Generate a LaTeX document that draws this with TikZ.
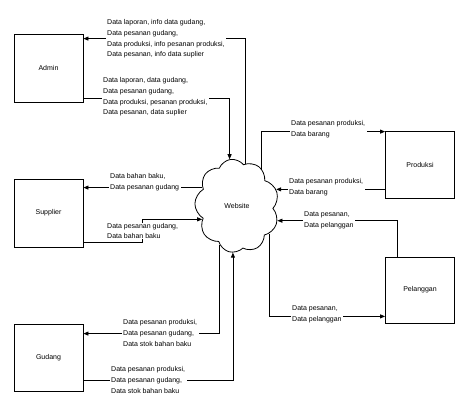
\documentclass[tikz,border=0pt]{standalone}
\usepackage{fontspec}
\setmainfont{Liberation Sans}
\usetikzlibrary{arrows.meta,shapes.symbols}
\begin{document}
\begin{tikzpicture}[x=1pt,y=-1pt,
  box/.style={draw, line width=0.8pt, minimum width=69pt, minimum height=68pt, inner sep=0pt, font=\fontsize{7}{8}\selectfont},
  arr/.style={line width=0.8pt, -{Triangle[length=5pt,width=4pt]}},
  lbl/.style={fill=white, inner xsep=1.5pt, inner ysep=0.5pt, align=left, anchor=west, font=\fontsize{7}{10.7}\selectfont}]
\useasboundingbox (0,0) rectangle (469,415);
\node[box] (adm) at (48.5,68) {Admin};
\node[box] (sup) at (48.5,213) {Supplier};
\node[box, minimum height=67pt] (gud) at (48.5,357.5) {Gudang};
\node[box, minimum height=67pt] (prod) at (420,164.5) {Produksi};
\node[box, minimum height=66pt] (pel) at (420,290) {Pelanggan};
\node[cloud, draw, line width=0.8pt, cloud puffs=9, cloud puff arc=120, aspect=0.9,
  minimum width=84pt, minimum height=94pt, inner sep=0pt, rotate=8,
  font=\fontsize{7}{8}\selectfont] (web) at (237,206) {\rotatebox{-8}{Website}};
% connectors
\draw[arr] (web.71) |- ([yshift=-5pt]adm.north east);
\draw[arr] ([yshift=4pt]adm.south east) -| (web.91);
\draw[arr] (web.144) -- (sup.east |- web.144);
\draw[arr] ([yshift=5pt]sup.south east) -- ++(59,0) |- (web.193);
\draw[arr] (web.238) |- ([yshift=-10pt]gud.north east);
\draw[arr] ([yshift=11pt]gud.south east) -| (web.257);
\draw[arr] (web.48) |- ([yshift=-1pt]prod.north west);
\draw[arr] (prod.west |- web.15) -- (web.15);
\draw[arr] ([xshift=12pt]pel.north west) |- (web.332);
\draw[arr] (web.311) |- ([yshift=7pt]pel.south west);
% labels
\node[lbl] (l1) at (105.5,39) {Data laporan, info data gudang,\\Data pesanan gudang,\\Data produksi, info pesanan produksi,\\Data pesanan, info data suplier};
\node[lbl] (l2) at (101.5,97) {Data laporan, data gudang,\\Data pesanan gudang,\\Data produksi, pesanan produksi,\\Data pesanan, data suplier};
\node[lbl] (l3) at (108.5,182.5) {Data bahan baku,\\Data pesanan gudang};
\node[lbl] (l4) at (105.5,231) {Data pesanan gudang,\\Data bahan baku};
\node[lbl] (l5) at (121.5,333) {Data pesanan produksi,\\Data pesanan gudang,\\Data stok bahan baku};
\node[lbl] (l6) at (109.5,380) {Data pesanan produksi,\\Data pesanan gudang,\\Data stok bahan baku};
\node[lbl] (l7) at (289.5,129) {Data pesanan produksi,\\Data barang};
\node[lbl] (l8) at (287.5,187.5) {Data pesanan produksi,\\Data barang};
\node[lbl] (l9) at (302.5,220.5) {Data pesanan,\\Data pelanggan};
\node[lbl] (l10) at (290.5,314) {Data pesanan,\\Data pelanggan};
\end{tikzpicture}
\end{document}
